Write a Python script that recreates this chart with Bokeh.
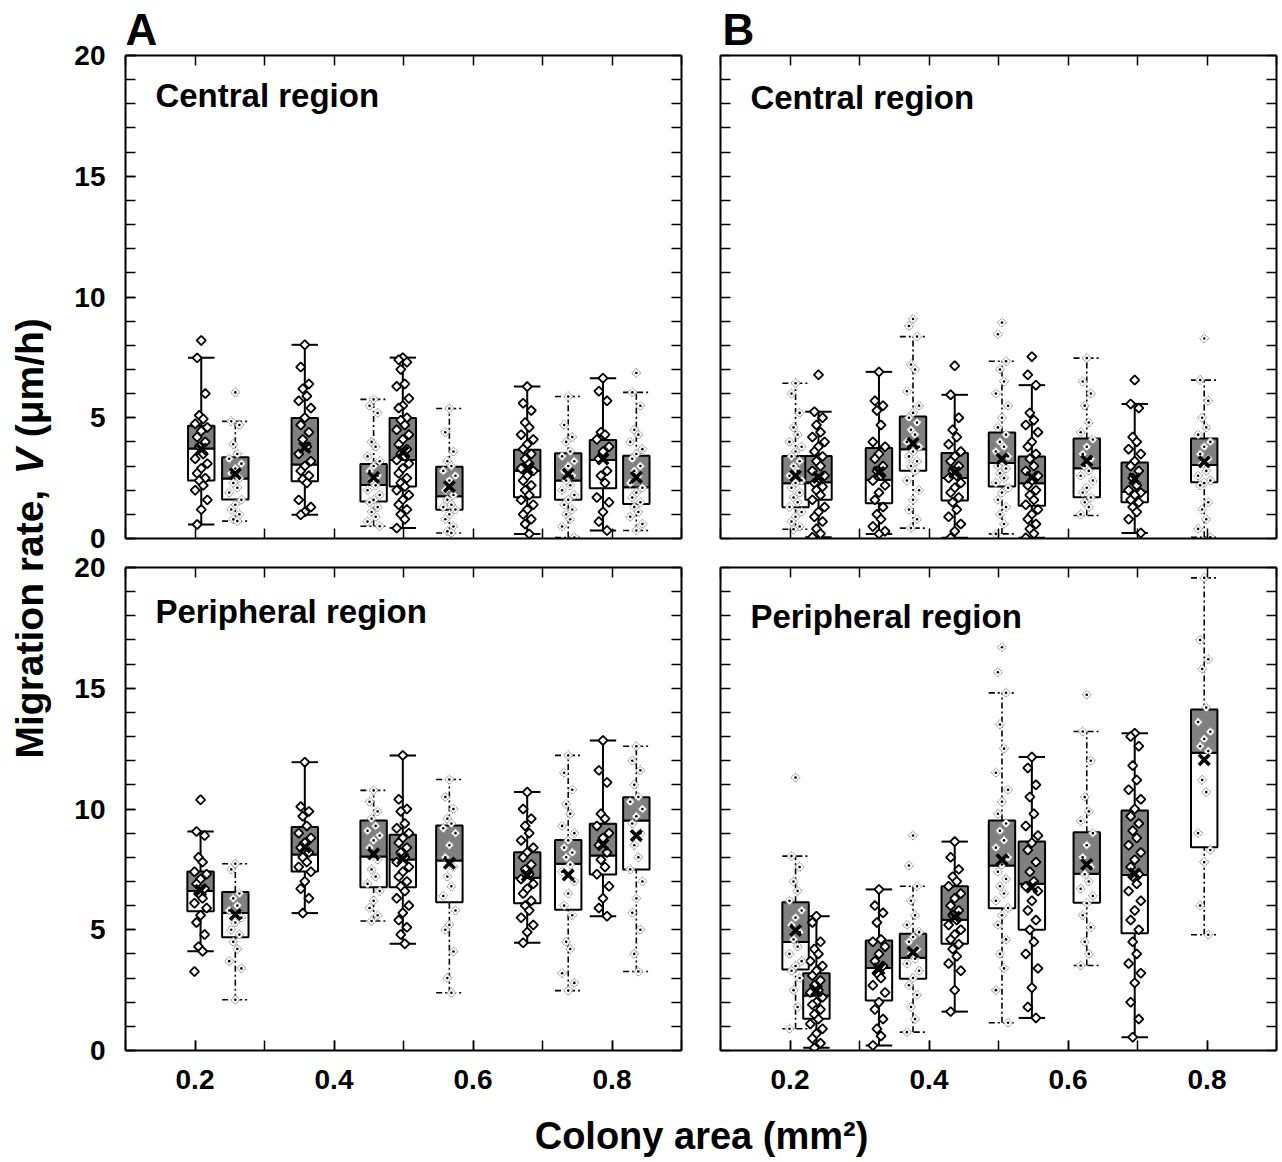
import numpy as np
from bokeh.plotting import figure
from bokeh.models import Range1d, LinearAxis, FixedTicker, Label
from bokeh.layouts import row, column
from bokeh.embed import file_html
from bokeh.resources import INLINE

# ======================= DATA =======================
x_tick_labels = ["0.2", "0.4", "0.6", "0.8"]
y_tick_labels = ["0", "5", "10", "15", "20"]

# ---- Panel A, central region ----
a_cen_pos = [0.209, 0.258, 0.358, 0.457, 0.499, 0.566, 0.678, 0.737, 0.787, 0.835]
a_cen_style = ["S", "D", "S", "D", "S", "D", "S", "D", "S", "D"]
a_cen_lo = [0.58, 0.72, 0.98, 0.51, 0.43, 0.23, 0.19, 0.04, 0.33, 0.33]
a_cen_q1 = [2.40, 1.61, 2.37, 1.53, 2.15, 1.19, 1.71, 1.60, 2.08, 1.43]
a_cen_med = [3.73, 2.48, 3.06, 2.22, 3.25, 1.75, 2.81, 2.40, 3.25, 2.12]
a_cen_q3 = [4.67, 3.36, 4.99, 3.09, 4.99, 2.97, 3.68, 3.53, 4.08, 3.43]
a_cen_hi = [7.48, 4.85, 8.02, 5.76, 7.49, 5.38, 6.29, 5.88, 6.64, 6.05]
a_cen_mean = [3.70, 2.68, 3.77, 2.53, 3.57, 2.15, 2.90, 2.67, 3.29, 2.53]
a_cen_pts = [
    [8.2, 7.48, 6.0, 5.1, 4.95, 4.75, 4.6, 4.45, 4.2, 4.0, 3.8, 3.5, 3.3, 3.1, 2.9, 2.7, 2.5, 2.4, 2.2, 2.0, 1.6, 1.2, 0.58],
    [6.05, 4.85, 4.7, 3.9, 3.5, 3.3, 3.1, 2.9, 2.7, 2.5, 2.3, 2.1, 1.9, 1.6, 1.4, 1.2, 1.0, 0.8, 0.72],
    [8.02, 7.1, 6.4, 6.2, 5.9, 5.7, 5.4, 5.0, 4.7, 4.4, 4.1, 3.8, 3.5, 3.2, 3.0, 2.8, 2.6, 2.45, 2.3, 1.6, 1.3, 1.1, 0.98],
    [5.76, 5.5, 5.2, 4.0, 3.8, 3.4, 3.2, 3.0, 2.8, 2.6, 2.4, 2.2, 2.0, 1.8, 1.6, 1.5, 1.3, 1.1, 0.9, 0.7, 0.51],
    [7.49, 7.4, 7.3, 7.0, 6.4, 6.3, 5.8, 5.5, 5.4, 5.0, 4.9, 4.7, 4.5, 4.3, 4.1, 3.9, 3.7, 3.5, 3.4, 3.25, 3.1, 2.9,
     2.7, 2.5, 2.3, 2.15, 2.0, 1.8, 1.6, 1.4, 1.2, 1.0, 0.8, 0.43],
    [5.38, 4.4, 3.6, 3.2, 3.0, 2.8, 2.6, 2.4, 2.0, 1.8, 1.6, 1.4, 1.3, 1.2, 1.0, 0.8, 0.5, 0.3, 0.23],
    [6.29, 5.6, 5.3, 4.8, 4.6, 4.3, 4.1, 3.9, 3.7, 3.5, 3.3, 3.1, 2.9, 2.8, 2.6, 2.4, 2.2, 2.0, 1.8, 1.6, 1.4, 1.2,
     1.0, 0.8, 0.6, 0.19],
    [5.88, 4.7, 4.2, 4.0, 3.6, 3.4, 3.2, 3.0, 2.8, 2.6, 2.4, 2.2, 2.0, 1.8, 1.6, 1.4, 1.2, 1.0, 0.8, 0.5, 0.04],
    [6.64, 6.1, 5.7, 4.4, 4.3, 4.1, 3.8, 3.6, 3.3, 2.8, 2.6, 2.3, 1.7, 1.5, 1.1, 0.7, 0.33],
    [6.85, 6.05, 5.5, 4.5, 4.3, 4.0, 3.7, 3.5, 3.3, 3.0, 2.8, 2.6, 2.3, 2.1, 1.9, 1.7, 1.5, 1.3, 1.1, 0.9, 0.6, 0.33],
]

# ---- Panel B, central region ----
b_cen_pos = [0.208, 0.241, 0.328, 0.377, 0.437, 0.505, 0.548, 0.627, 0.696, 0.796]
b_cen_style = ["D", "S", "S", "D", "S", "D", "S", "D", "S", "D"]
b_cen_lo = [0.38, 0.05, 0.19, 0.43, 0.03, 0.19, 0.03, 0.95, 0.23, 0.05]
b_cen_q1 = [1.29, 1.60, 1.46, 2.81, 1.57, 2.15, 1.36, 1.71, 1.50, 2.33]
b_cen_med = [2.29, 2.33, 2.43, 3.70, 2.51, 3.13, 2.29, 2.91, 1.94, 3.04]
b_cen_q3 = [3.42, 3.42, 3.75, 5.05, 3.54, 4.39, 3.40, 4.14, 3.15, 4.14]
b_cen_hi = [6.43, 5.25, 6.90, 8.36, 5.95, 7.34, 6.35, 7.47, 5.57, 6.56]
b_cen_mean = [2.60, 2.53, 2.74, 3.94, 2.74, 3.29, 2.53, 3.22, 2.47, 3.18]
b_cen_pts = [
    [6.43, 6.0, 5.2, 4.6, 4.3, 4.0, 3.8, 3.6, 3.4, 3.2, 3.0, 2.8, 2.6, 2.4, 2.3, 2.1, 1.9, 1.7, 1.5, 1.3, 1.1, 0.9,
     0.7, 0.5, 0.38],
    [6.78, 5.25, 5.0, 4.7, 4.4, 4.2, 4.0, 3.8, 3.6, 3.4, 3.2, 3.0, 2.8, 2.6, 2.45, 2.3, 2.15, 2.0, 1.8, 1.6, 1.3, 1.1,
     0.9, 0.7, 0.4, 0.2, 0.05],
    [6.9, 5.7, 5.5, 5.3, 4.7, 4.0, 3.8, 3.5, 3.3, 3.0, 2.8, 2.6, 2.4, 2.2, 1.9, 1.6, 1.3, 1.0, 0.8, 0.5, 0.3, 0.19],
    [9.09, 8.8, 8.36, 7.2, 7.0, 6.1, 5.5, 5.2, 5.0, 4.8, 4.5, 4.3, 4.0, 3.8, 3.6, 3.4, 3.2, 3.0, 2.8, 2.4, 2.0, 1.6,
     1.2, 0.8, 0.43],
    [7.15, 5.95, 5.0, 4.5, 4.2, 3.9, 3.6, 3.4, 3.2, 3.0, 2.8, 2.6, 2.5, 2.3, 2.1, 1.9, 1.7, 1.5, 1.2, 0.9, 0.6, 0.3, 0.03],
    [8.94, 8.46, 7.34, 7.0, 6.5, 6.0, 5.5, 5.0, 4.6, 4.3, 4.0, 3.8, 3.6, 3.4, 3.2, 3.0, 2.9, 2.7, 2.5, 2.3, 2.1, 1.9,
     1.6, 1.3, 1.0, 0.6, 0.19],
    [7.53, 6.78, 6.35, 5.2, 4.9, 4.7, 4.4, 4.0, 3.8, 3.5, 3.3, 3.0, 2.8, 2.6, 2.4, 2.2, 2.0, 1.8, 1.6, 1.4, 1.2, 1.0,
     0.8, 0.6, 0.4, 0.2, 0.03],
    [7.47, 6.5, 6.0, 5.5, 4.8, 4.4, 4.1, 3.8, 3.5, 3.3, 3.0, 2.8, 2.6, 2.4, 2.1, 1.9, 1.7, 1.5, 1.3, 1.0],
    [6.56, 5.57, 5.4, 4.2, 4.0, 3.7, 3.5, 3.2, 3.0, 2.8, 2.5, 2.2, 2.0, 1.9, 1.8, 1.6, 1.5, 1.3, 1.1, 0.8, 0.23],
    [8.28, 6.56, 5.7, 5.0, 4.6, 4.3, 4.0, 3.8, 3.5, 3.3, 3.1, 2.8, 2.6, 2.4, 2.3, 2.2, 1.5, 1.2, 0.8, 0.4, 0.05],
]

# ---- Panel A, peripheral region ----
a_per_pos = [0.208, 0.258, 0.358, 0.457, 0.499, 0.566, 0.678, 0.737, 0.787, 0.835]
a_per_style = ["S", "D", "S", "D", "S", "D", "S", "D", "S", "D"]
a_per_lo = [4.11, 2.10, 5.69, 5.36, 4.42, 2.39, 4.46, 2.48, 5.56, 3.27]
a_per_q1 = [5.77, 4.69, 7.41, 6.76, 6.76, 6.14, 6.10, 5.83, 7.29, 7.49]
a_per_med = [6.60, 5.69, 8.12, 8.03, 7.91, 7.87, 7.15, 7.73, 8.07, 9.52]
a_per_q3 = [7.41, 6.56, 9.25, 9.52, 8.93, 9.32, 8.21, 8.72, 9.39, 10.49]
a_per_hi = [9.07, 7.73, 11.94, 10.77, 12.22, 11.22, 10.70, 12.22, 12.84, 12.60]
a_per_mean = [6.63, 5.63, 8.42, 8.14, 7.94, 7.76, 7.25, 7.27, 8.53, 8.90]
a_per_pts = [
    [10.38, 9.07, 8.9, 8.0, 7.8, 7.4, 7.3, 7.1, 6.9, 6.7, 6.5, 6.3, 6.1, 5.9, 5.6, 5.3, 4.8, 4.3, 4.11, 3.27],
    [7.73, 7.5, 6.5, 6.3, 6.0, 5.8, 5.5, 5.3, 5.0, 4.8, 4.5, 4.2, 3.7, 3.4, 2.10],
    [11.94, 10.1, 9.9, 9.7, 9.3, 9.0, 8.8, 8.6, 8.4, 8.2, 8.0, 7.8, 7.6, 7.4, 7.0, 6.7, 6.3, 5.69],
    [10.77, 10.3, 9.9, 9.6, 9.3, 9.1, 8.9, 8.7, 8.4, 7.9, 7.5, 7.2, 6.9, 6.6, 6.2, 5.9, 5.6, 5.36],
    [12.22, 10.4, 10.0, 9.9, 9.4, 9.2, 9.0, 8.8, 8.6, 8.4, 8.2, 8.0, 7.8, 7.6, 7.4, 7.2, 7.0, 6.8, 6.6, 6.3, 6.0,
     5.7, 5.4, 5.1, 4.8, 4.42],
    [11.22, 10.5, 10.0, 9.6, 9.4, 9.2, 9.0, 8.5, 8.0, 7.6, 7.2, 6.8, 6.4, 5.8, 5.2, 5.0, 4.1, 3.0, 2.39],
    [10.70, 10.0, 9.6, 9.3, 9.0, 8.7, 8.4, 8.2, 8.0, 7.7, 7.5, 7.3, 7.1, 6.9, 6.7, 6.5, 6.2, 6.0, 5.8, 5.5, 5.2,
     4.9, 4.46],
    [12.22, 11.5, 10.8, 10.2, 9.8, 9.3, 9.0, 8.7, 8.4, 8.2, 8.0, 7.7, 7.4, 7.0, 6.5, 6.0, 5.6, 4.5, 4.2, 3.2, 2.8, 2.48],
    [12.84, 11.6, 11.1, 9.8, 9.6, 9.3, 9.0, 8.8, 8.5, 8.2, 7.9, 7.6, 7.3, 6.8, 6.3, 5.9, 5.56],
    [12.6, 12.0, 11.6, 11.0, 10.5, 10.3, 10.0, 9.7, 9.4, 9.0, 8.5, 8.0, 7.5, 7.0, 6.3, 5.7, 5.0, 4.0, 3.27],
]

# ---- Panel B, peripheral region ----
b_per_pos = [0.208, 0.238, 0.328, 0.377, 0.437, 0.505, 0.548, 0.627, 0.696, 0.796]
b_per_style = ["D", "S", "S", "D", "S", "D", "S", "D", "S", "D"]
b_per_lo = [0.90, 0.11, 0.21, 0.76, 1.61, 1.15, 1.35, 3.52, 0.55, 4.79]
b_per_q1 = [3.35, 1.31, 2.07, 2.97, 4.42, 5.89, 5.00, 6.12, 4.86, 8.42]
b_per_med = [4.49, 2.28, 3.42, 3.84, 5.41, 7.66, 6.90, 7.32, 7.27, 12.33]
b_per_q3 = [6.14, 3.20, 4.55, 4.83, 6.80, 9.52, 8.65, 9.04, 9.94, 14.12]
b_per_hi = [8.05, 5.56, 6.67, 6.80, 8.65, 14.81, 12.15, 13.21, 13.14, 19.57]
b_per_mean = [4.97, 2.48, 3.38, 4.07, 5.52, 7.90, 6.76, 7.70, 7.32, 12.04]
b_per_pts = [
    [11.3, 8.05, 7.6, 7.0, 6.6, 6.2, 5.8, 5.5, 5.2, 4.9, 4.6, 4.3, 4.0, 3.7, 3.5, 3.3, 3.0, 2.5, 1.8, 0.90],
    [5.56, 5.3, 4.5, 4.2, 4.0, 3.7, 3.5, 3.3, 3.1, 2.9, 2.7, 2.5, 2.4, 2.2, 2.0, 1.9, 1.7, 1.5, 1.3, 1.1, 0.9,
     0.7, 0.5, 0.3, 0.11],
    [6.67, 6.0, 5.7, 5.3, 4.6, 4.5, 4.3, 4.0, 3.7, 3.5, 3.2, 3.0, 2.7, 2.4, 2.0, 1.7, 1.3, 0.9, 0.6, 0.21],
    [8.9, 7.66, 6.80, 6.2, 5.6, 5.2, 4.9, 4.7, 4.5, 4.2, 4.0, 3.8, 3.6, 3.3, 3.0, 2.7, 2.3, 1.8, 1.3, 0.76],
    [8.65, 8.0, 7.5, 7.2, 7.0, 6.8, 6.5, 6.3, 6.0, 5.8, 5.6, 5.4, 5.2, 5.0, 4.8, 4.6, 4.4, 4.2, 3.9, 3.6, 3.3,
     2.5, 1.61],
    [16.7, 15.66, 14.81, 13.5, 12.5, 11.5, 10.8, 10.3, 9.8, 9.4, 9.1, 8.7, 8.4, 8.0, 7.7, 7.4, 7.1, 6.8, 6.5, 6.2,
     5.9, 5.6, 5.2, 4.6, 4.0, 3.4, 2.5, 1.15],
    [12.15, 11.7, 11.0, 10.5, 9.8, 9.3, 8.9, 8.6, 8.3, 7.8, 7.4, 7.0, 6.8, 6.6, 6.2, 5.8, 5.4, 5.0, 4.5, 4.0, 3.4,
     2.6, 1.8, 1.35],
    [14.73, 13.21, 12.0, 10.5, 9.9, 9.5, 9.0, 8.5, 8.0, 7.6, 7.3, 7.0, 6.7, 6.4, 6.1, 5.6, 5.1, 4.5, 4.0, 3.52],
    [13.14, 13.0, 12.6, 11.8, 11.2, 10.8, 10.4, 10.0, 9.7, 9.4, 9.1, 8.8, 8.5, 8.2, 7.9, 7.6, 7.3, 7.2, 6.9, 6.6,
     6.2, 5.8, 5.4, 5.0, 4.5, 4.0, 3.6, 3.2, 2.8, 2.0, 1.3, 0.55],
    [19.57, 17.0, 16.2, 15.8, 14.2, 13.6, 13.2, 12.9, 12.6, 12.4, 11.2, 10.7, 9.0, 8.3, 7.8, 6.0, 4.79],
]

# ======================= STYLE / LAYOUT =======================
FONT = "Liberation Sans"
HW = 0.019                      # half box width (data units)
JIT = [0, -0.9, 0.9, -0.45, 0.45, -1.35, 1.35]
JIT_STEP = 0.0065
GRAY = "#808080"

FRAME_W, FRAME_H = 556, 483


def style_axis(ax, standoff):
    ax.axis_line_color = "black"
    ax.axis_line_width = 2
    ax.major_tick_in = 10
    ax.major_tick_out = 0
    ax.minor_tick_in = 10
    ax.minor_tick_out = 0
    ax.major_tick_line_color = "black"
    ax.minor_tick_line_color = "black"
    ax.major_tick_line_width = 1.5
    ax.minor_tick_line_width = 1.5
    ax.major_label_text_font = FONT
    ax.major_label_text_font_size = "28px"
    ax.major_label_text_font_style = "bold"
    ax.major_label_text_color = "black"
    ax.major_label_standoff = standoff


def add_axes(p, label_x, label_y):
    xticks = [float(s) for s in x_tick_labels]
    yticks = [float(s) for s in y_tick_labels]
    xminor = [round(0.1 + 0.1 * i, 2) for i in range(9)]
    yminor = list(range(0, 21))
    for loc in ("below", "above"):
        lab = label_x and loc == "below"
        ax = LinearAxis(ticker=FixedTicker(ticks=xticks if lab else [], minor_ticks=xminor))
        if lab:
            ax.major_label_overrides = {t: s for t, s in zip(xticks, x_tick_labels)}
        style_axis(ax, 19 if lab else 0)
        p.add_layout(ax, loc)
    for loc in ("left", "right"):
        lab = label_y and loc == "left"
        ax = LinearAxis(ticker=FixedTicker(ticks=yticks if lab else [], minor_ticks=yminor))
        if lab:
            ax.major_label_overrides = {t: s for t, s in zip(yticks, y_tick_labels)}
        style_axis(ax, 20 if lab else 0)
        p.add_layout(ax, loc)


def make_panel(pos, style, lo, q1, med, q3, hi, mean, pts, w, h, borders,
               label_x, label_y, letter, letter_off, region, reg_y):
    bl, br, bt, bb = borders
    p = figure(width=w, height=h, x_range=Range1d(0.1, 0.9), y_range=Range1d(0, 20),
               output_backend="svg", toolbar_location=None,
               x_axis_location=None, y_axis_location=None,
               min_border_left=bl, min_border_right=br, min_border_top=bt, min_border_bottom=bb)
    p.grid.visible = False
    p.outline_line_color = None
    p.background_fill_color = "white"
    p.border_fill_color = "white"
    if letter:
        p.title.text = letter
        p.title.text_font = FONT
        p.title.text_font_size = "44px"
        p.title.text_font_style = "bold"
        p.title.text_color = "black"
        p.title.align = "left"
        p.title.offset = letter_off
        p.title.standoff = 3
    add_axes(p, label_x, label_y)

    pos = np.asarray(pos, float)
    lo, q1, med, q3, hi, mean = (np.asarray(a, float) for a in (lo, q1, med, q3, hi, mean))

    # whiskers and caps
    for st, dash, lw in (("S", "solid", 2.0), ("D", "6 3 2 3", 1.6)):
        idx = [i for i, s in enumerate(style) if s == st]
        if not idx:
            continue
        x = pos[idx]
        p.segment(x0=np.r_[x, x], y0=np.r_[lo[idx], q3[idx]], x1=np.r_[x, x], y1=np.r_[q1[idx], hi[idx]],
                  line_color="black", line_width=lw, line_dash=dash)
        p.segment(x0=np.r_[x - HW, x - HW], y0=np.r_[lo[idx], hi[idx]],
                  x1=np.r_[x + HW, x + HW], y1=np.r_[lo[idx], hi[idx]],
                  line_color="black", line_width=lw, line_dash=dash)

    # boxes: lower half white, upper half gray
    p.quad(left=pos - HW, right=pos + HW, bottom=q1, top=med,
           fill_color="white", line_color="black", line_width=2)
    p.quad(left=pos - HW, right=pos + HW, bottom=med, top=q3,
           fill_color=GRAY, line_color="black", line_width=2)

    # individual points
    for st in ("S", "D"):
        xs, ys = [], []
        for i, s in enumerate(style):
            if s != st:
                continue
            for j, v in enumerate(pts[i]):
                xs.append(pos[i] + JIT[j % len(JIT)] * JIT_STEP)
                ys.append(v)
        if not xs:
            continue
        if st == "S":
            p.scatter(xs, ys, marker="square", angle=np.pi / 4, size=6.5,
                      fill_color="white", line_color="black", line_width=1.8)
        else:
            p.scatter(xs, ys, marker="square", angle=np.pi / 4, size=6.5,
                      fill_color="white", line_color="#8a8a8a", line_width=1.2, line_dash="1 1")
            p.scatter(xs, ys, marker="circle", size=2.6, fill_color="black", line_color=None)

    # means
    p.scatter(pos, mean, marker="x", size=15, line_width=3.6, line_color="black")

    p.add_layout(Label(x=0.143, y=reg_y, text=region, text_font=FONT, text_font_size="33px",
                       text_font_style="bold", text_color="black",
                       text_align="left", text_baseline="alphabetic"))
    return p


YF_W = 60
TOP_H = 55 + FRAME_H + 15
BOT_H = 14 + FRAME_H + 60
L_W = 65 + FRAME_W + 19
R_W = 20 + FRAME_W + 4
XF_W = L_W + R_W
XF_H = 48
TOTAL_H = TOP_H + BOT_H + XF_H

pA = make_panel(a_cen_pos, a_cen_style, a_cen_lo, a_cen_q1, a_cen_med, a_cen_q3, a_cen_hi, a_cen_mean,
                a_cen_pts, L_W, TOP_H, (65, 19, 55, 15), False, True, "A", 0, "Central region", 18.34)
pB = make_panel(b_cen_pos, b_cen_style, b_cen_lo, b_cen_q1, b_cen_med, b_cen_q3, b_cen_hi, b_cen_mean,
                b_cen_pts, R_W, TOP_H, (20, 4, 55, 15), False, False, "B", 2, "Central region", 18.26)
pC = make_panel(a_per_pos, a_per_style, a_per_lo, a_per_q1, a_per_med, a_per_q3, a_per_hi, a_per_mean,
                a_per_pts, L_W, BOT_H, (65, 19, 14, 60), True, True, None, 0, "Peripheral region", 18.18)
pD = make_panel(b_per_pos, b_per_style, b_per_lo, b_per_q1, b_per_med, b_per_q3, b_per_hi, b_per_mean,
                b_per_pts, R_W, BOT_H, (20, 4, 14, 60), True, False, None, 0, "Peripheral region", 17.97)


def blank_fig(w, h):
    f = figure(width=w, height=h, x_range=Range1d(0, w), y_range=Range1d(0, h),
               output_backend="svg", toolbar_location=None,
               x_axis_location=None, y_axis_location=None,
               min_border_left=0, min_border_right=0, min_border_top=0, min_border_bottom=0)
    f.grid.visible = False
    f.outline_line_color = None
    return f


# y-axis title (rotated, with italic V)
yfig = blank_fig(YF_W, TOTAL_H)
FS = 39
y0 = TOTAL_H - 758
parts = [("Migration rate,", "bold", 0.0),
         ("V", "bold italic", (6.890 + 0.40) * FS),
         ("(\u03bcm/h)", "bold", (6.890 + 0.40 + 0.667 + 0.278) * FS)]
for txt, fst, off in parts:
    yfig.add_layout(Label(x=29, y=y0 + off, text=txt, angle=np.pi / 2, text_font=FONT,
                          text_font_size=f"{FS}px", text_font_style=fst, text_color="black",
                          text_align="left", text_baseline="middle"))

# x-axis title
xfig = blank_fig(XF_W, XF_H)
xfig.add_layout(Label(x=701 - YF_W, y=XF_H - 25, text="Colony area (mm\u00b2)", text_font=FONT,
                      text_font_size="38px", text_font_style="bold", text_color="black",
                      text_align="center", text_baseline="alphabetic"))

layout = row(yfig, column(row(pA, pB), row(pC, pD), xfig))

open("out.html", "w").write(file_html(layout, INLINE))
